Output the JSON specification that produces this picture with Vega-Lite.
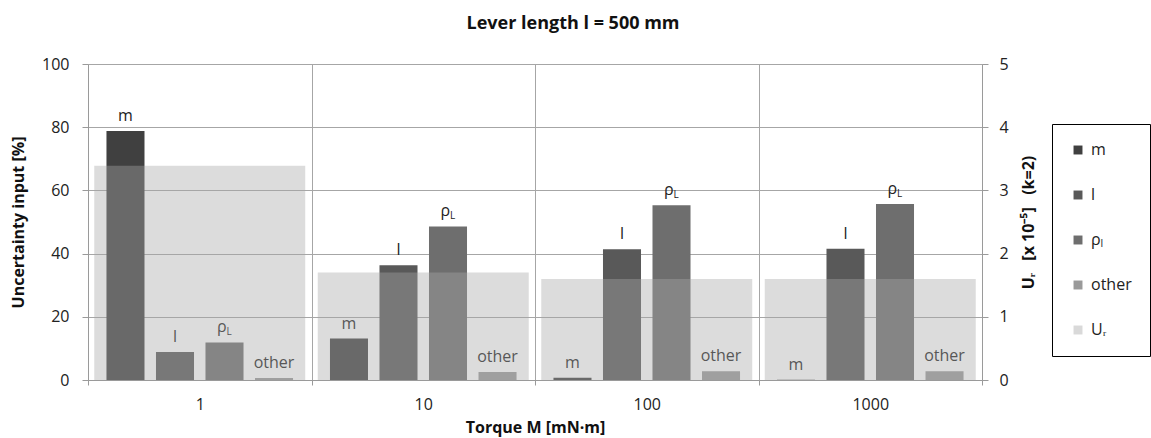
{
  "$schema": "https://vega.github.io/schema/vega-lite/v6.json",
  "width": 894,
  "height": 316,
  "autosize": {"type": "none"},
  "padding": {"left": 88, "top": 64, "right": 169, "bottom": 58},
  "background": "white",
  "title": {
    "text": "Lever length l = 500 mm",
    "font": "Open Sans",
    "fontSize": 18,
    "fontWeight": "bold",
    "color": "#111111",
    "anchor": "middle",
    "frame": "group",
    "dx": 38,
    "offset": 23
  },
  "config": {
    "font": "Open Sans",
    "view": {"stroke": null},
    "axis": {
      "domainColor": "#9a9a9a",
      "tickColor": "#9a9a9a",
      "gridColor": "#a6a6a6",
      "labelColor": "#222222",
      "labelFontSize": 16,
      "titleFontSize": 16,
      "titleFontWeight": "bold",
      "titleColor": "#111111",
      "labelFont": "Open Sans",
      "titleFont": "Open Sans"
    }
  },
  "datasets": {
    "bars": [
      {"torque": "1", "series": "m", "label": "m", "value": 78.8},
      {"torque": "1", "series": "l", "label": "l", "value": 8.9},
      {"torque": "1", "series": "rhoL", "label": "ρ", "value": 11.9},
      {"torque": "1", "series": "other", "label": "other", "value": 0.6},
      {"torque": "10", "series": "m", "label": "m", "value": 13.1},
      {"torque": "10", "series": "l", "label": "l", "value": 36.3},
      {"torque": "10", "series": "rhoL", "label": "ρ", "value": 48.6},
      {"torque": "10", "series": "other", "label": "other", "value": 2.5},
      {"torque": "100", "series": "m", "label": "m", "value": 0.7},
      {"torque": "100", "series": "l", "label": "l", "value": 41.4},
      {"torque": "100", "series": "rhoL", "label": "ρ", "value": 55.3},
      {"torque": "100", "series": "other", "label": "other", "value": 2.8},
      {"torque": "1000", "series": "m", "label": "m", "value": 0.1},
      {"torque": "1000", "series": "l", "label": "l", "value": 41.5},
      {"torque": "1000", "series": "rhoL", "label": "ρ", "value": 55.7},
      {"torque": "1000", "series": "other", "label": "other", "value": 2.8}
    ],
    "ur": [
      {"torque": "1", "ur": 3.39},
      {"torque": "10", "ur": 1.70},
      {"torque": "100", "ur": 1.60},
      {"torque": "1000", "ur": 1.60}
    ]
  },
  "encoding": {
    "x": {
      "field": "torque",
      "type": "nominal",
      "sort": ["1", "10", "100", "1000"],
      "scale": {"paddingInner": 0, "paddingOuter": 0},
      "axis": {
        "title": "Torque M [mN·m]",
        "labelAngle": 0,
        "tickBand": "extent",
        "grid": true,
        "tickSize": 5,
        "labelPadding": 11,
        "titlePadding": 7
      }
    }
  },
  "layer": [
    {
      "data": {"name": "bars"},
      "encoding": {
        "xOffset": {
          "field": "series",
          "type": "nominal",
          "sort": ["m", "l", "rhoL", "other"],
          "scale": {"paddingInner": 0.232, "paddingOuter": 0.373}
        },
        "y": {
          "field": "value",
          "type": "quantitative",
          "scale": {"domain": [0, 100]},
          "axis": {
            "title": "Uncertainty input [%]",
            "values": [0, 20, 40, 60, 80, 100],
            "grid": true,
            "tickSize": 6,
            "labelPadding": 13,
            "titleX": -70,
            "titleY": 158,
            "titleAngle": 270,
            "titleAlign": "center",
            "titleBaseline": "middle"
          }
        }
      },
      "layer": [
        {
          "mark": {"type": "bar"},
          "encoding": {
            "color": {
              "field": "series",
              "type": "nominal",
              "scale": {
                "domain": ["m", "l", "rhoL", "other", "Ur"],
                "range": ["#404040", "#595959", "#6e6e6e", "#9a9a9a", "#d9d9d9"]
              },
              "legend": {
                "title": null,
                "orient": "none",
                "legendX": 964,
                "legendY": 60,
                "strokeColor": "#000000",
                "padding": 18,
                "symbolType": "square",
                "symbolSize": 80,
                "symbolStrokeWidth": 0,
                "labelFont": "Open Sans",
                "labelFontSize": 16,
                "labelColor": "#222222",
                "rowPadding": 29,
                "labelOffset": 5,
                "labelExpr": "datum.label == 'rhoL' ? 'ρₗ' : datum.label == 'Ur' ? 'Uᵣ' : datum.label"
              }
            }
          }
        },
        {
          "mark": {"type": "text", "baseline": "bottom", "dy": -7, "fontSize": 16, "color": "#222222"},
          "transform": [{"filter": "datum.series != 'rhoL'"}],
          "encoding": {"text": {"field": "label"}}
        },
        {
          "mark": {"type": "text", "baseline": "bottom", "align": "right", "dx": 2, "dy": -7, "fontSize": 16, "color": "#222222"},
          "transform": [{"filter": "datum.series == 'rhoL'"}],
          "encoding": {"text": {"field": "label"}}
        },
        {
          "mark": {"type": "text", "baseline": "bottom", "align": "left", "dx": 2, "dy": -5, "fontSize": 10, "color": "#222222", "text": "L"},
          "transform": [{"filter": "datum.series == 'rhoL'"}],
          "encoding": {}
        }
      ]
    },
    {
      "data": {"name": "ur"},
      "mark": {"type": "bar", "color": "#a8a8a8", "opacity": 0.4, "width": {"band": 0.944}},
      "encoding": {
        "y": {
          "field": "ur",
          "type": "quantitative",
          "scale": {"domain": [0, 5]},
          "axis": {
            "orient": "right",
            "title": "Uᵣ\u00a0\u00a0\u00a0[x 10⁻⁵]\u00a0\u00a0\u00a0(k=2)",
            "titleX": 46,
            "titleY": 158,
            "titleAngle": 270,
            "titleAlign": "center",
            "titleBaseline": "middle",
            "values": [0, 1, 2, 3, 4, 5],
            "grid": false,
            "tickSize": 6,
            "labelPadding": 11
          }
        }
      }
    }
  ],
  "resolve": {"scale": {"y": "independent"}}
}
